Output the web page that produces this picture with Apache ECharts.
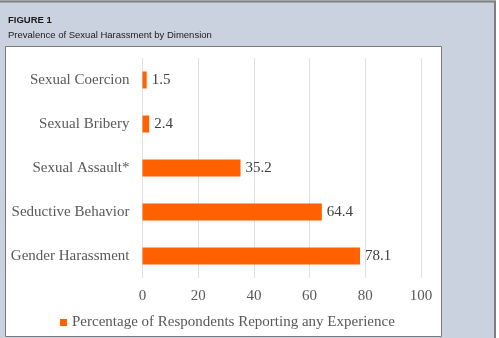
<!DOCTYPE html>
<html><head><meta charset="utf-8">
<script src="https://cdn.jsdelivr.net/npm/echarts@6/dist/echarts.min.js"></script>
<style>html,body{margin:0;padding:0;background:#fff}#c{width:499px;height:338px}</style>
</head><body><div id="c"></div>
<script>
const categories = ['Sexual Coercion','Sexual Bribery','Sexual Assault*','Seductive Behavior','Gender Harassment'];
const values = [1.5, 2.4, 35.2, 64.4, 78.1];
const seriesName = 'Percentage of Respondents Reporting any Experience';
const xTicks = {min:0, max:100, interval:20};

const chart = echarts.init(document.getElementById('c'), null, {renderer:'canvas'});
const serif = '"Liberation Serif", "Times New Roman", serif';
chart.setOption({
  animation:false,
  graphic:[
    {type:'rect', z:-10, shape:{x:0,y:0,width:496,height:338}, style:{fill:'#cbd2df'}},
    {type:'line', z:-9, shape:{x1:0,y1:1.5,x2:496,y2:1.5}, style:{stroke:'#7f7f7f',lineWidth:2}},
    {type:'line', z:-9, shape:{x1:495,y1:1,x2:495,y2:338}, style:{stroke:'#7f7f7f',lineWidth:2}},
    {type:'rect', z:-8, shape:{x:5.5,y:46.5,width:436,height:290}, style:{fill:'#ffffff',stroke:'#7a7a7a',lineWidth:1}}
  ],
  title:{
    text:'FIGURE 1', subtext:'Prevalence of Sexual Harassment by Dimension',
    left:3, top:10, itemGap:5,
    textStyle:{fontFamily:'"Liberation Sans", Arial, sans-serif', fontSize:9.5, fontWeight:'bold', color:'#1a1a1a'},
    subtextStyle:{fontFamily:'"Liberation Sans", Arial, sans-serif', fontSize:9.5, color:'#1a1a1a'}
  },
  grid:{left:142.5, right:78, top:58, bottom:60},
  xAxis:{type:'value', min:xTicks.min, max:xTicks.max, interval:xTicks.interval,
    axisLine:{show:false}, axisTick:{show:false},
    axisLabel:{fontFamily:serif, fontSize:15, color:'#595959', margin:11},
    splitLine:{lineStyle:{color:'#e0e0e0', width:1}}},
  yAxis:{type:'category', data:categories, inverse:true,
    axisLine:{show:false}, axisTick:{show:false},
    axisLabel:{fontFamily:serif, fontSize:15, color:'#595959', margin:13}},
  legend:{data:[seriesName], left:55, top:310, itemWidth:7, itemHeight:7, itemGap:5,
    icon:'rect', textStyle:{fontFamily:serif, fontSize:15, color:'#595959'}},
  series:[{type:'bar', name:seriesName, data:values, barWidth:17,
    itemStyle:{color:'#ff6100'},
    label:{show:true, position:'right', distance:5, fontFamily:serif, fontSize:15, color:'#404040'}}]
});
</script></body></html>
